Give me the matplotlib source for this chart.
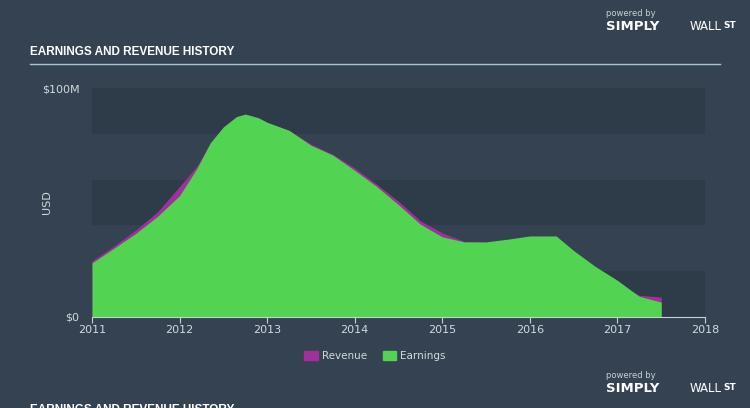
import numpy as np
import matplotlib
matplotlib.use('Agg')
import matplotlib.pyplot as plt
from matplotlib import font_manager as fm
from matplotlib.patches import Patch

# values (USD millions)
years = [2011.0, 2011.25, 2011.5, 2011.75, 2012.0, 2012.2, 2012.35, 2012.5, 2012.65,
         2012.75, 2012.9, 2013.0, 2013.25, 2013.5, 2013.75, 2014.0, 2014.25, 2014.5,
         2014.75, 2015.0, 2015.25, 2015.5, 2015.75, 2016.0, 2016.3, 2016.5, 2016.75,
         2017.0, 2017.25, 2017.5]
earnings = [23.6, 30, 36.5, 44, 53, 65, 76, 83, 87.5, 88.6, 87, 85, 81.5, 75, 70.7,
            64, 57, 49, 40.5, 35, 32.8, 32.8, 34, 35.4, 35.4, 29, 22, 16, 9, 6.5]
revenue = [24.5, 31, 38, 46, 57, 66, 76, 83, 87.5, 88.6, 87, 85, 81.5, 75.5, 71,
           65, 58, 50.5, 42, 36.7, 33, 32.5, 31, 29.5, 27, 23, 19, 14, 9.5, 8.7]
xticks = [2011, 2012, 2013, 2014, 2015, 2016, 2017, 2018]

bg = '#344251'
band = '#2e3b49'
txt = '#d3d9df'
green = '#52d452'
purple = '#a0309b'

# condensed title font if there is one
try:
    fm.findfont('Liberation Sans Narrow', fallback_to_default=False)
    title_font = dict(family='Liberation Sans Narrow', fontsize=10.5)
except ValueError:
    title_font = dict(family='Liberation Sans', fontsize=8.5)

fig = plt.figure(figsize=(7.5, 4.08), dpi=100)
fig.patch.set_facecolor(bg)
ax = fig.add_axes([92/750, 91/408, 613/750, 229/408])
ax.set_facecolor(bg)

for lo in [0, 40, 80]:
    ax.axhspan(lo, lo + 20, color=band, lw=0, zorder=0)

ax.fill_between(years, revenue, color=purple, lw=0, zorder=2)
ax.fill_between(years, earnings, color=green, lw=0, zorder=3)

ax.set_xlim(2011, 2018)
ax.set_ylim(0, 100)
for s in ['top', 'right', 'left']:
    ax.spines[s].set_visible(False)
ax.spines['bottom'].set_color('#c8d0d8')
ax.spines['bottom'].set_zorder(5)
ax.set_xticks(xticks)
ax.set_xticklabels([str(y) for y in xticks])
ax.tick_params(axis='x', colors='#c8d0d8', labelcolor=txt, labelsize=8, length=4, pad=2)
ax.set_yticks([0, 100])
ax.set_yticklabels(['$0', '$100M'])
ax.tick_params(axis='y', length=0, labelcolor=txt, labelsize=8, pad=9)
ax.set_ylabel('USD', color=txt, fontsize=8)
ax.yaxis.set_label_coords(-0.065, 0.5)

# header
fig.text(30/750, 1 - 52/408, 'EARNINGS AND REVENUE HISTORY', color='white',
         fontweight='bold', va='center', **title_font)
fig.add_artist(plt.Line2D([30/750, 720/750], [1 - 64/408] * 2, color='#a9c3d9', lw=1))

# logos
for yy in [14, 375]:
    fig.text(606/750, 1 - yy/408, 'powered by', color='#c9d0d6', fontsize=6, va='center')
    fig.text(606/750, 1 - (yy + 13)/408, 'SIMPLY', color='white', fontsize=9.5,
             fontweight='bold', va='center')
    fig.text(690/750, 1 - (yy + 13)/408, 'WALL', color='white', fontsize=8.5, va='center')
    fig.text(723/750, 1 - (yy + 12)/408, 'ST', color='white', fontsize=6.5,
             fontweight='bold', va='center')

# cut-off title at bottom
fig.text(30/750, 1 - 410/408, 'EARNINGS AND REVENUE HISTORY', color='white',
         fontweight='bold', va='center', **title_font)

handles = [Patch(color=purple, label='Revenue'), Patch(color=green, label='Earnings')]
leg = fig.legend(handles=handles, loc='center', bbox_to_anchor=(0.5, 1 - 356/408), ncol=2,
                 frameon=False, fontsize=7.5, handlelength=1.3, handleheight=1.0,
                 columnspacing=1.5, handletextpad=0.4)
for t in leg.get_texts():
    t.set_color(txt)

fig.savefig('out.png', dpi=100, facecolor=bg)
